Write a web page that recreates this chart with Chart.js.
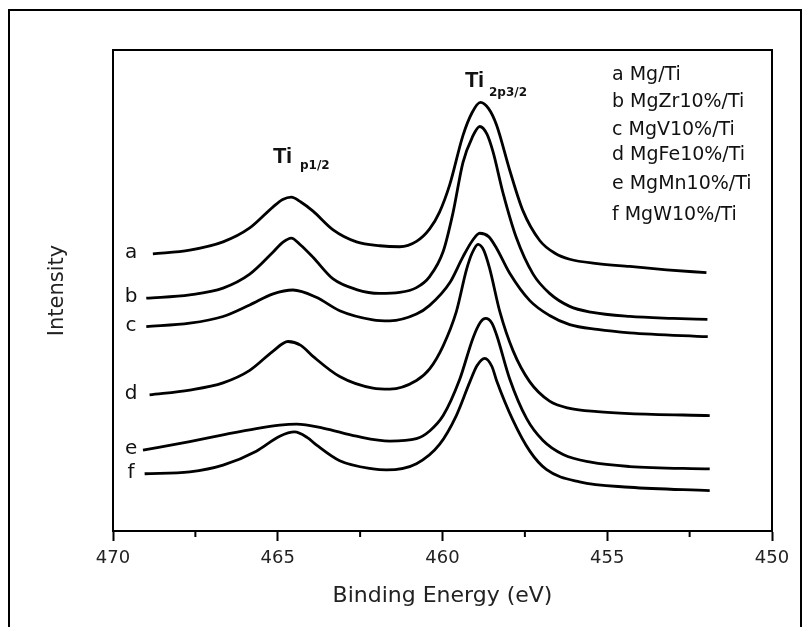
<!DOCTYPE html>
<html>
<head>
<meta charset="utf-8">
<script src="https://cdn.jsdelivr.net/npm/chart.js@4.4.1/dist/chart.umd.min.js"></script>
<style>
  html, body { margin: 0; padding: 0; background: #fff; }
  canvas { display: block; }
</style>
</head>
<body>
<canvas id="c" width="807" height="627"></canvas>
<script>
// ---- Data (binding energy in eV, intensity in arbitrary units) ----
const seriesLabels = ['a Mg/Ti', 'b MgZr10%/Ti', 'c MgV10%/Ti', 'd MgFe10%/Ti', 'e MgMn10%/Ti', 'f MgW10%/Ti'];
const curveLetters = ['a', 'b', 'c', 'd', 'e', 'f'];

const energyA = [468.79, 467.67, 466.66, 465.85, 465.14, 464.85, 464.59, 464.30, 463.93, 463.32, 462.61, 461.90, 461.30, 460.79, 460.39, 460.09, 459.78, 459.38, 459.10, 458.85, 458.60, 458.36, 457.96, 457.56, 457.05, 456.60, 456.14, 455.30, 454.32, 453.20, 451.99];
const intensityA = [57.6, 58.4, 60.1, 63.0, 67.4, 68.9, 69.4, 68.4, 66.5, 62.6, 60.1, 59.3, 59.1, 60.2, 62.8, 66.3, 72.0, 82.2, 87.0, 89.1, 87.8, 84.4, 75.0, 66.6, 60.4, 57.8, 56.5, 55.6, 55.0, 54.3, 53.7];

const energyB = [468.99, 467.67, 466.66, 465.85, 465.14, 464.85, 464.59, 464.30, 463.93, 463.32, 462.61, 461.91, 461.30, 460.79, 460.39, 459.98, 459.68, 459.38, 459.10, 458.87, 458.65, 458.47, 458.16, 457.76, 457.25, 456.75, 456.14, 455.50, 454.32, 453.00, 451.96];
const intensityB = [48.4, 49.1, 50.5, 53.4, 58.0, 60.0, 60.9, 59.4, 56.9, 52.4, 50.2, 49.4, 49.6, 50.6, 52.9, 58.1, 66.2, 76.6, 81.8, 84.1, 82.5, 78.9, 70.2, 61.0, 53.4, 49.4, 46.7, 45.5, 44.6, 44.2, 44.0];

const energyC = [468.99, 467.67, 466.66, 465.85, 465.14, 464.54, 463.83, 463.12, 462.11, 461.60, 460.79, 460.39, 459.78, 459.38, 459.10, 458.87, 458.60, 458.36, 457.96, 457.35, 456.75, 456.14, 455.30, 454.32, 451.95];
const intensityC = [42.5, 43.2, 44.6, 47.0, 49.3, 50.1, 48.6, 45.8, 43.9, 43.7, 45.1, 46.9, 51.6, 57.0, 60.3, 61.9, 61.2, 58.8, 53.6, 47.9, 44.8, 42.9, 41.9, 41.2, 40.4];

const energyD = [468.89, 467.67, 466.66, 465.85, 465.14, 464.69, 464.30, 463.93, 463.12, 462.11, 461.60, 460.79, 460.39, 459.98, 459.58, 459.27, 459.10, 458.92, 458.75, 458.57, 458.26, 457.86, 457.35, 456.75, 456.14, 455.30, 454.32, 451.89];
const intensityD = [28.3, 29.3, 30.8, 33.4, 37.4, 39.4, 38.6, 36.3, 32.1, 29.7, 29.5, 31.3, 33.7, 38.5, 45.6, 54.4, 57.8, 59.6, 58.4, 54.6, 45.6, 37.5, 31.0, 27.0, 25.5, 24.8, 24.4, 24.0];

const energyE = [469.09, 467.67, 466.66, 465.65, 464.94, 464.43, 463.63, 462.61, 461.60, 460.79, 460.39, 459.98, 459.48, 459.07, 458.85, 458.69, 458.50, 458.36, 457.96, 457.45, 456.95, 456.34, 455.50, 454.32, 451.89];
const intensityE = [16.8, 18.6, 20.0, 21.3, 22.0, 22.2, 21.4, 19.7, 18.7, 19.2, 20.8, 24.0, 31.5, 40.2, 43.4, 44.2, 43.2, 40.8, 31.6, 23.4, 18.8, 15.9, 14.3, 13.4, 12.9];

const energyF = [469.04, 467.67, 466.66, 465.65, 464.94, 464.49, 464.10, 463.83, 463.12, 462.11, 461.70, 460.79, 460.09, 459.58, 459.17, 458.95, 458.72, 458.50, 458.36, 457.86, 457.35, 456.85, 455.84, 454.32, 451.89];
const intensityF = [11.9, 12.3, 13.7, 16.6, 19.7, 20.6, 19.4, 17.9, 14.6, 12.9, 12.7, 14.0, 18.0, 24.0, 31.0, 34.4, 35.9, 34.2, 31.3, 23.0, 16.6, 12.8, 10.2, 9.1, 8.4];

const majorTicks = [470, 465, 460, 455, 450];
const minorTicks = [467.5, 462.5, 457.5, 452.5];

// ---- Build datasets ----
const energies = [energyA, energyB, energyC, energyD, energyE, energyF];
const intensities = [intensityA, intensityB, intensityC, intensityD, intensityE, intensityF];
const datasets = seriesLabels.map((lab, i) => ({
  label: lab,
  data: energies[i].map((e, j) => ({ x: e, y: intensities[i][j] })),
  borderColor: '#000',
  borderWidth: 2.8,
  pointRadius: 0,
  fill: false,
  cubicInterpolationMode: 'monotone'
}));

const annot = {
  id: 'annot',
  beforeDraw(chart) {
    const ctx = chart.ctx;
    ctx.save();
    ctx.fillStyle = '#fff';
    ctx.fillRect(0, 0, chart.width, chart.height);
    ctx.restore();
  },
  afterDraw(chart) {
    const { ctx, chartArea: a, scales: { x, y } } = chart;
    ctx.save();
    ctx.strokeStyle = '#000';
    ctx.lineWidth = 2;
    // outer picture border
    ctx.beginPath();
    ctx.moveTo(9, chart.height + 2);
    ctx.lineTo(9, 10);
    ctx.lineTo(801, 10);
    ctx.lineTo(801, chart.height + 2);
    ctx.stroke();
    // plot frame
    ctx.strokeRect(a.left, a.top, a.right - a.left, a.bottom - a.top);
    // minor ticks
    minorTicks.forEach(v => {
      const px = x.getPixelForValue(v);
      ctx.beginPath();
      ctx.moveTo(px, a.bottom);
      ctx.lineTo(px, a.bottom + 6);
      ctx.stroke();
    });
    // curve letters placed at the start of each curve
    ctx.fillStyle = '#111';
    ctx.font = '20px "DejaVu Sans"';
    ctx.textAlign = 'center';
    ctx.textBaseline = 'middle';
    curveLetters.forEach((l, i) => {
      const py = y.getPixelForValue(intensities[i][0]);
      ctx.fillText(l, x.getPixelForValue(469.45), py - 1);
    });
    // legend text
    ctx.textAlign = 'left';
    ctx.font = '19px "DejaVu Sans"';
    const rowY = [75, 102, 130, 155, 184, 215];
    seriesLabels.forEach((lab, i) => {
      ctx.fillText(lab, 612, rowY[i]);
    });
    // peak annotations
    ctx.textBaseline = 'alphabetic';
    ctx.font = 'bold 22px "Liberation Sans"';
    ctx.fillText('Ti', 273, 163);
    ctx.fillText('Ti', 465, 87);
    ctx.font = 'bold 12px "DejaVu Sans"';
    ctx.fillText('p1/2', 300, 169);
    ctx.fillText('2p3/2', 489, 96);
    ctx.restore();
  }
};

new Chart(document.getElementById('c'), {
  type: 'line',
  data: { datasets },
  options: {
    responsive: false,
    animation: false,
    layout: { padding: { left: 0, right: 35, top: 50, bottom: 0 } },
    plugins: { legend: { display: false }, tooltip: { enabled: false } },
    scales: {
      x: {
        type: 'linear',
        reverse: true,
        min: 450,
        max: 470,
        afterBuildTicks: s => { s.ticks = majorTicks.map(v => ({ value: v })); },
        afterFit: s => { s.height = 96; },
        ticks: {
          font: { family: 'DejaVu Sans', size: 18 },
          color: '#222',
          padding: 7,
          maxRotation: 0,
          autoSkip: false,
          callback: v => String(v)
        },
        grid: { drawOnChartArea: false, drawTicks: true, tickLength: 10, tickWidth: 2, tickColor: '#000' },
        border: { display: true, color: '#000', width: 2 },
        title: {
          display: true,
          text: 'Binding Energy (eV)',
          font: { family: 'DejaVu Sans', size: 22 },
          color: '#222',
          padding: { top: 0, bottom: 18 }
        }
      },
      y: {
        min: 0,
        max: 100,
        afterFit: s => { s.width = 113; },
        ticks: { display: false },
        grid: { display: false, drawTicks: false },
        border: { display: false },
        title: {
          display: true,
          text: 'Intensity',
          font: { family: 'DejaVu Sans', size: 21 },
          color: '#222',
          padding: { top: 45, bottom: 0 }
        }
      }
    }
  },
  plugins: [annot]
});
</script>
</body>
</html>
